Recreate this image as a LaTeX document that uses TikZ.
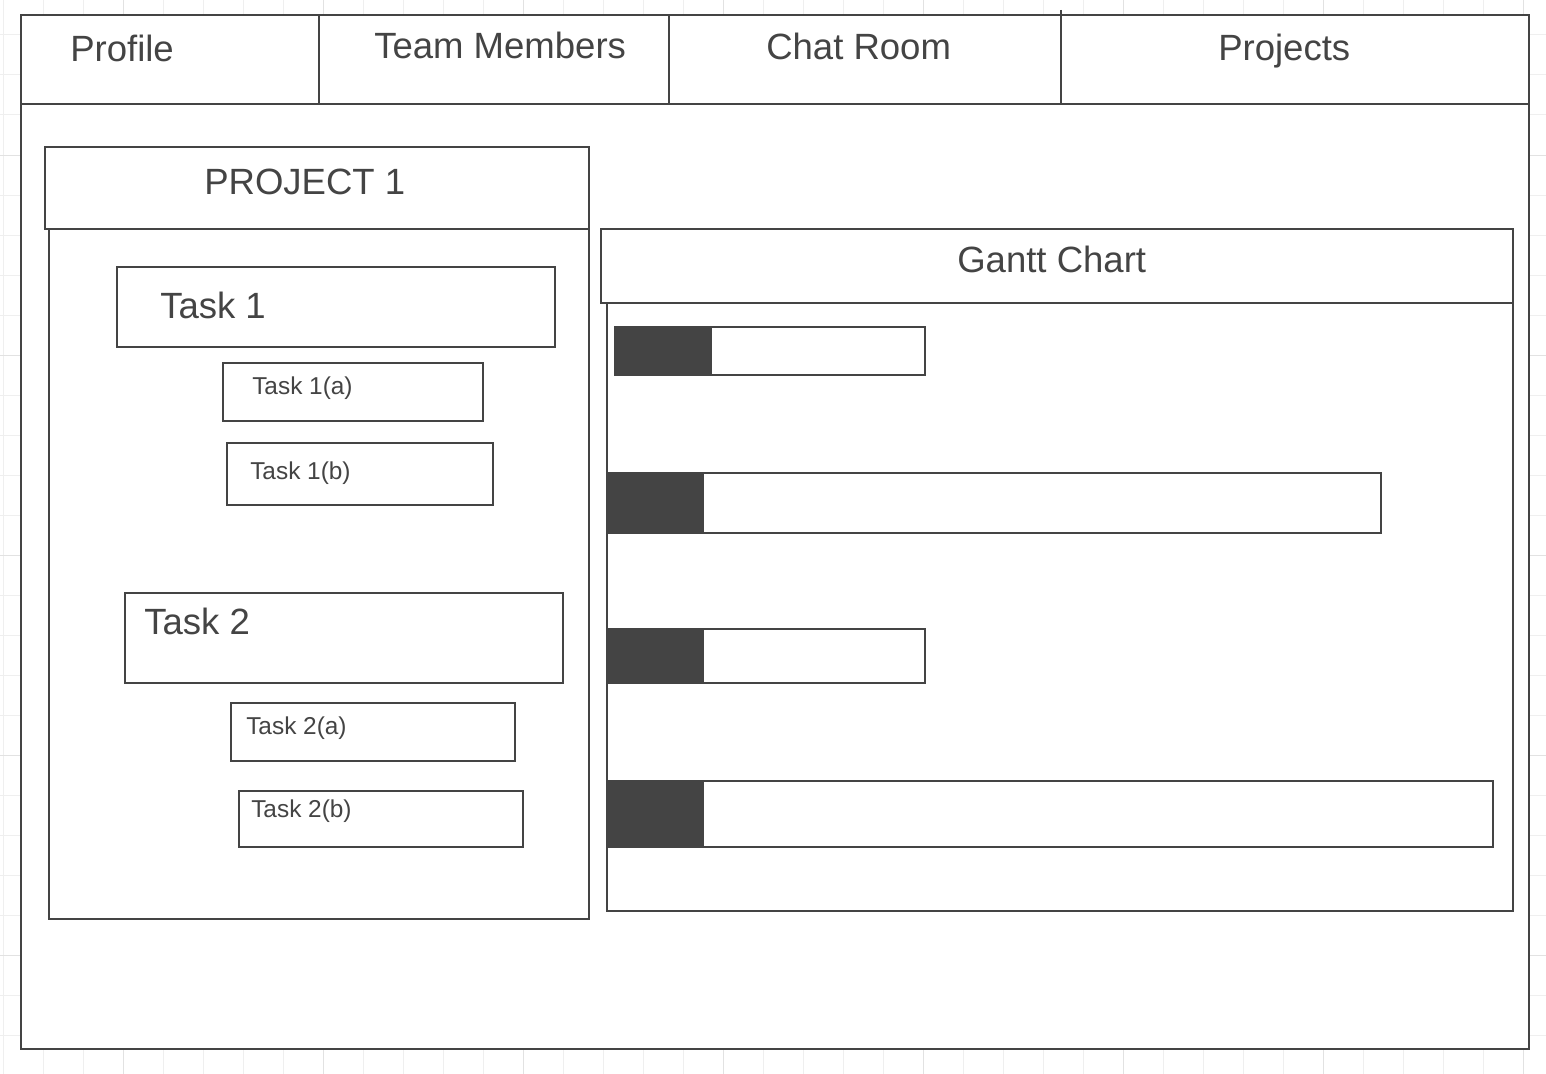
\documentclass[tikz,border=0pt]{standalone}
\usepackage{fontspec}
\setmainfont{Liberation Sans}
\usepackage{tikz}

\definecolor{ink}{HTML}{444444}
\definecolor{gridminor}{HTML}{EFEFEF}
\definecolor{gridmajor}{HTML}{E2E2E2}

\tikzset{
  box/.style={draw=ink, line width=1.5pt, fill=white},
  bar/.style={fill=ink, draw=ink, line width=1.5pt},
  bigtext/.style={anchor=base west, inner sep=0pt, text=ink, font=\fontsize{27.4}{32}\selectfont},
  smalltext/.style={anchor=base west, inner sep=0pt, text=ink, font=\fontsize{18.3}{22}\selectfont}
}

\begin{document}
\begin{tikzpicture}[x=0.75pt, y=-0.75pt]
\useasboundingbox (0,0) rectangle (1546,1074);

% background grid
\foreach \gx in {3,43,...,1546} \draw[gridminor, line width=0.75pt] (\gx,0) -- (\gx,1074);
\foreach \gy in {35,75,...,1074} \draw[gridminor, line width=0.75pt] (0,\gy) -- (1546,\gy);
\foreach \gx in {123,323,...,1546} \draw[gridmajor, line width=0.75pt] (\gx,0) -- (\gx,1074);
\foreach \gy in {155,355,...,1074} \draw[gridmajor, line width=0.75pt] (0,\gy) -- (1546,\gy);

% outer frame
\draw[box] (21,15) rectangle (1529,1049);

% tab bar
\draw[ink, line width=1.5pt] (21,104) -- (1529,104);
\draw[ink, line width=1.5pt] (319,15) -- (319,104);
\draw[ink, line width=1.5pt] (669,15) -- (669,104);
\draw[ink, line width=1.5pt] (1061,10) -- (1061,104);
\node[bigtext] (profile) at (70,62) {Profile};
\node[bigtext] (members) at (374,59) {Team Members};
\node[bigtext] (chat) at (766,60) {Chat Room};
\node[bigtext] (projects) at (1218,61) {Projects};

% project panel
\draw[box] (45,147) rectangle (589,229);
\draw[box] (49,229) rectangle (589,919);
\node[bigtext] (project) at (204,194) {PROJECT 1};

% task 1
\draw[box] (117,267) rectangle (555,347);
\node[bigtext] (task1) at (160,318) {Task 1};
\draw[box] (223,363) rectangle (483,421);
\node[smalltext] (task1a) at (252,394) {Task 1(a)};
\draw[box] (227,443) rectangle (493,505);
\node[smalltext] (task1b) at (250,479) {Task 1(b)};

% task 2
\draw[box] (125,593) rectangle (563,683);
\node[bigtext] (task2) at (144,634) {Task 2};
\draw[box] (231,703) rectangle (515,761);
\node[smalltext] (task2a) at (246,734) {Task 2(a)};
\draw[box] (239,791) rectangle (523,847);
\node[smalltext] (task2b) at (251,817) {Task 2(b)};

% gantt panel
\draw[box] (601,229) rectangle (1513,303);
\draw[box] (607,303) rectangle (1513,911);
\node[bigtext] (gantt) at (957,272) {Gantt Chart};

% gantt bars
\draw[box] (615,327) rectangle (925,375);
\draw[bar] (615,327) rectangle (711,375);
\draw[box] (607,473) rectangle (1381,533);
\draw[bar] (607,473) rectangle (703,533);
\draw[box] (607,629) rectangle (925,683);
\draw[bar] (607,629) rectangle (703,683);
\draw[box] (607,781) rectangle (1493,847);
\draw[bar] (607,781) rectangle (703,847);

\end{tikzpicture}
\end{document}
